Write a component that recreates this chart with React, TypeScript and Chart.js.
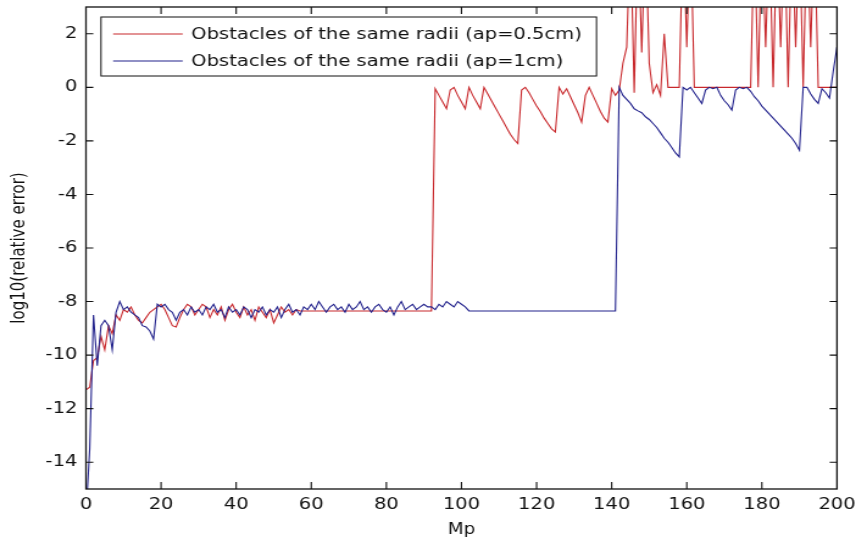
import React, { useEffect, useRef } from "react";
import { Chart, registerables } from "chart.js";

Chart.register(...registerables);

// ---- data ----
const MP: number[] = Array.from({ length: 201 }, (_, i) => i); // Mp = 0..200
const X_TICKS = [0, 20, 40, 60, 80, 100, 120, 140, 160, 180, 200];
const Y_TICKS = [-14, -12, -10, -8, -6, -4, -2, 0, 2];
const X_TITLE = "Mp";
const Y_TITLE = "log10(relative error)";
const LEGEND_LABELS = [
  "Obstacles of the same radii (ap=0.5cm)",
  "Obstacles of the same radii (ap=1cm)",
];

// ap = 0.5cm (values above 3 leave the plotted range)
const ERR_HALF_CM = [
  // 0-9
  -11.3, -11.2, -10.2, -10.1, -9.3, -9.8, -8.9, -9.2, -8.5, -8.7,
  // 10-19
  -8.3, -8.4, -8.2, -8.5, -8.7, -8.8, -8.6, -8.4, -8.3, -8.2,
  // 20-29
  -8.1, -8.3, -8.6, -8.9, -8.95, -8.6, -8.3, -8.1, -8.2, -8.5,
  // 30-39
  -8.3, -8.1, -8.2, -8.6, -8.3, -8.5, -8.2, -8.7, -8.3, -8.1,
  // 40-49
  -8.4, -8.6, -8.2, -8.5, -8.3, -8.7, -8.2, -8.4, -8.6, -8.3,
  // 50-59
  -8.8, -8.5, -8.2, -8.4, -8.3, -8.5, -8.3, -8.35, -8.35, -8.35,
  // 60-69
  -8.35, -8.35, -8.35, -8.35, -8.35, -8.35, -8.35, -8.35, -8.35, -8.35,
  // 70-79
  -8.35, -8.35, -8.35, -8.35, -8.35, -8.35, -8.35, -8.35, -8.35, -8.35,
  // 80-89
  -8.35, -8.35, -8.35, -8.35, -8.35, -8.35, -8.35, -8.35, -8.35, -8.35,
  // 90-99
  -8.35, -8.35, -8.35, -0.05, -0.3, -0.55, -0.8, -0.1, 0, -0.3,
  // 100-109
  -0.55, -0.8, 0, -0.3, -0.55, -0.8, 0, -0.25, -0.5, -0.75,
  // 110-119
  -1.0, -1.25, -1.5, -1.75, -1.95, -2.1, -0.1, 0, -0.2, -0.45,
  // 120-129
  -0.7, -0.9, -1.15, -1.35, -1.55, -1.67, 0, -0.25, -0.05, -0.35,
  // 130-139
  -0.65, -0.95, -1.3, -0.3, 0, -0.3, -0.6, -0.9, -1.15, -1.3,
  // 140-149
  -0.05, -0.3, -0.1, 0.9, 1.5, 6, -0.2, 6, 1.3, 6,
  // 150-159
  0.9, -0.2, 0.1, -0.3, 2.0, 0, 0, 0, 0, 6,
  // 160-169
  1.5, 6, 0, 0, 0, 0, 0, 0, 0, 0,
  // 170-179
  0, 0, 0, 0, 0, 0, 0, 0, 6, 0,
  // 180-189
  6, 1.5, 6, 0, 6, 1.5, 6, 0, 6, 1.5,
  // 190-199
  6, 0, 6, 1.5, 6, 0, 0, 0, 0, 0,
  // 200
  0,
];

// ap = 1cm
const ERR_ONE_CM = [
  // 0-9
  -16, -13.5, -8.5, -10.4, -8.9, -8.7, -8.9, -9.8, -8.4, -8.0,
  // 10-19
  -8.3, -8.2, -8.4, -8.5, -8.6, -8.9, -8.95, -9.1, -9.4, -8.1,
  // 20-29
  -8.2, -8.1, -8.3, -8.4, -8.7, -8.4, -8.3, -8.5, -8.2, -8.4,
  // 30-39
  -8.3, -8.5, -8.2, -8.3, -8.1, -8.4, -8.3, -8.6, -8.2, -8.4,
  // 40-49
  -8.3, -8.5, -8.2, -8.3, -8.6, -8.3, -8.4, -8.2, -8.5, -8.3,
  // 50-59
  -8.4, -8.2, -8.6, -8.3, -8.1, -8.4, -8.3, -8.5, -8.2, -8.3,
  // 60-69
  -8.1, -8.3, -8.0, -8.2, -8.4, -8.2, -8.1, -8.3, -8.2, -8.4,
  // 70-79
  -8.1, -8.3, -8.2, -8.0, -8.3, -8.2, -8.4, -8.2, -8.1, -8.3,
  // 80-89
  -8.4, -8.2, -8.5, -8.2, -8.0, -8.3, -8.2, -8.1, -8.3, -8.2,
  // 90-99
  -8.1, -8.2, -8.2, -8.3, -8.1, -8.2, -8.0, -8.1, -8.2, -8.0,
  // 100-109
  -8.1, -8.2, -8.35, -8.35, -8.35, -8.35, -8.35, -8.35, -8.35, -8.35,
  // 110-119
  -8.35, -8.35, -8.35, -8.35, -8.35, -8.35, -8.35, -8.35, -8.35, -8.35,
  // 120-129
  -8.35, -8.35, -8.35, -8.35, -8.35, -8.35, -8.35, -8.35, -8.35, -8.35,
  // 130-139
  -8.35, -8.35, -8.35, -8.35, -8.35, -8.35, -8.35, -8.35, -8.35, -8.35,
  // 140-149
  -8.35, -8.35, 0, -0.3, -0.45, -0.6, -0.8, -0.88, -0.95, -1.1,
  // 150-159
  -1.2, -1.35, -1.5, -1.7, -1.9, -2.05, -2.25, -2.45, -2.6, 0,
  // 160-169
  -0.1, 0, -0.2, -0.4, -0.6, -0.1, 0, -0.05, 0, -0.3,
  // 170-179
  -0.5, -0.65, -0.85, -0.1, 0, -0.05, 0, -0.15, -0.35, -0.5,
  // 180-189
  -0.7, -0.85, -1.0, -1.15, -1.3, -1.45, -1.6, -1.75, -1.9, -2.1,
  // 190-199
  -2.35, 0, 0, -0.25, -0.45, -0.6, -0.05, -0.2, -0.4, 0.6,
  // 200
  1.5,
];

const RED = "#c8282c";
const BLUE = "#22228c";

// ---- layout (logical canvas, stretched horizontally like the source image) ----
const W = 702;
const H = 541;
const SX = 856 / W;
const FONT = "'DejaVu Sans', 'Liberation Sans', Arial, sans-serif";

const framePlugin = {
  id: "matlabFrame",
  afterDraw(chart: any) {
    const { ctx, chartArea, scales } = chart;
    const { left, right, top, bottom } = chartArea;
    const x = scales.x;
    const y = scales.y;
    ctx.save();
    ctx.strokeStyle = "#111";
    ctx.lineWidth = 1.1;
    ctx.beginPath();
    X_TICKS.forEach((v) => {
      const px = x.getPixelForValue(v);
      if (v === X_TICKS[0] || v === X_TICKS[X_TICKS.length - 1]) return;
      ctx.moveTo(px, bottom);
      ctx.lineTo(px, bottom - 7);
      ctx.moveTo(px, top);
      ctx.lineTo(px, top + 7);
    });
    Y_TICKS.forEach((v) => {
      const py = y.getPixelForValue(v);
      ctx.moveTo(left, py);
      ctx.lineTo(left + 6, py);
      ctx.moveTo(right, py);
      ctx.lineTo(right - 6, py);
    });
    ctx.stroke();
    ctx.lineWidth = 1.3;
    ctx.strokeRect(left, top, right - left, bottom - top);

    // legend box
    ctx.font = `16px ${FONT}`;
    const textW = Math.max(...LEGEND_LABELS.map((t) => ctx.measureText(t).width));
    const bx = left + 12.3;
    const by = top + 10;
    const lineX0 = bx + 10;
    const lineX1 = bx + 67;
    const textX = bx + 74;
    const bw = textX - bx + textW + 12;
    const bh = 59;
    ctx.fillStyle = "#fff";
    ctx.fillRect(bx, by, bw, bh);
    ctx.strokeStyle = "#111";
    ctx.lineWidth = 1;
    ctx.strokeRect(bx, by, bw, bh);
    const colors = [RED, BLUE];
    const rows = [by + 17, by + 44];
    LEGEND_LABELS.forEach((t, i) => {
      ctx.strokeStyle = colors[i];
      ctx.lineWidth = 1.2;
      ctx.beginPath();
      ctx.moveTo(lineX0, rows[i]);
      ctx.lineTo(lineX1, rows[i]);
      ctx.stroke();
      ctx.fillStyle = "#111";
      ctx.textAlign = "left";
      ctx.textBaseline = "middle";
      ctx.fillText(t, textX, rows[i] + 1);
    });
    ctx.restore();
  },
};

function zeroPad(s: any) {
  s.paddingTop = 0;
  s.paddingBottom = 0;
  s.paddingLeft = 0;
  s.paddingRight = 0;
}

export default function App() {
  const ref = useRef<HTMLCanvasElement | null>(null);

  useEffect(() => {
    if (!ref.current) return;
    const chart = new Chart(ref.current, {
      type: "line",
      data: {
        datasets: [
          {
            label: LEGEND_LABELS[0],
            data: MP.map((m, i) => ({ x: m, y: ERR_HALF_CM[i] })),
            borderColor: RED,
            borderWidth: 1.1,
            pointRadius: 0,
            tension: 0,
            order: 2,
          },
          {
            label: LEGEND_LABELS[1],
            data: MP.map((m, i) => ({ x: m, y: ERR_ONE_CM[i] })),
            borderColor: BLUE,
            borderWidth: 1.1,
            pointRadius: 0,
            tension: 0,
            order: 1,
          },
        ],
      },
      options: {
        responsive: false,
        animation: false,
        devicePixelRatio: 1,
        layout: { padding: { top: 7, right: W - 686.4, left: 0, bottom: 0 } },
        plugins: { legend: { display: false }, tooltip: { enabled: false } },
        scales: {
          x: {
            type: "linear",
            min: 0,
            max: 200,
            grid: { display: false, drawTicks: false },
            border: { display: false },
            afterBuildTicks: (s: any) => {
              s.ticks = X_TICKS.map((v) => ({ value: v }));
            },
            afterFit: (s: any) => {
              s.height = H - 489;
              zeroPad(s);
            },
            ticks: {
              font: { family: FONT, size: 16 },
              color: "#111",
              padding: 6,
              maxRotation: 0,
              autoSkip: false,
            },
            title: {
              display: true,
              text: X_TITLE,
              font: { family: FONT, size: 15 },
              color: "#111",
              padding: { top: 0, bottom: 2 },
            },
          },
          y: {
            type: "linear",
            min: -15,
            max: 3,
            grid: { display: false, drawTicks: false },
            border: { display: false },
            afterBuildTicks: (s: any) => {
              s.ticks = Y_TICKS.map((v) => ({ value: v }));
            },
            afterFit: (s: any) => {
              s.width = 70.5;
              zeroPad(s);
            },
            ticks: {
              font: { family: FONT, size: 16 },
              color: "#111",
              padding: 7,
              autoSkip: false,
            },
            title: {
              display: true,
              text: Y_TITLE,
              font: { family: FONT, size: 15 },
              color: "#111",
              padding: { top: 7.4, bottom: 0 },
            },
          },
        },
      },
      plugins: [framePlugin],
    } as any);
    return () => chart.destroy();
  }, []);

  return (
    <div
      style={{
        position: "absolute",
        left: 0,
        top: 0,
        width: 856,
        height: 541,
        overflow: "hidden",
        background: "#fff",
      }}
    >
      <canvas
        ref={ref}
        width={W}
        height={H}
        style={{
          display: "block",
          width: `${W}px`,
          height: `${H}px`,
          transform: `scaleX(${SX})`,
          transformOrigin: "0 0",
        }}
      />
    </div>
  );
}
